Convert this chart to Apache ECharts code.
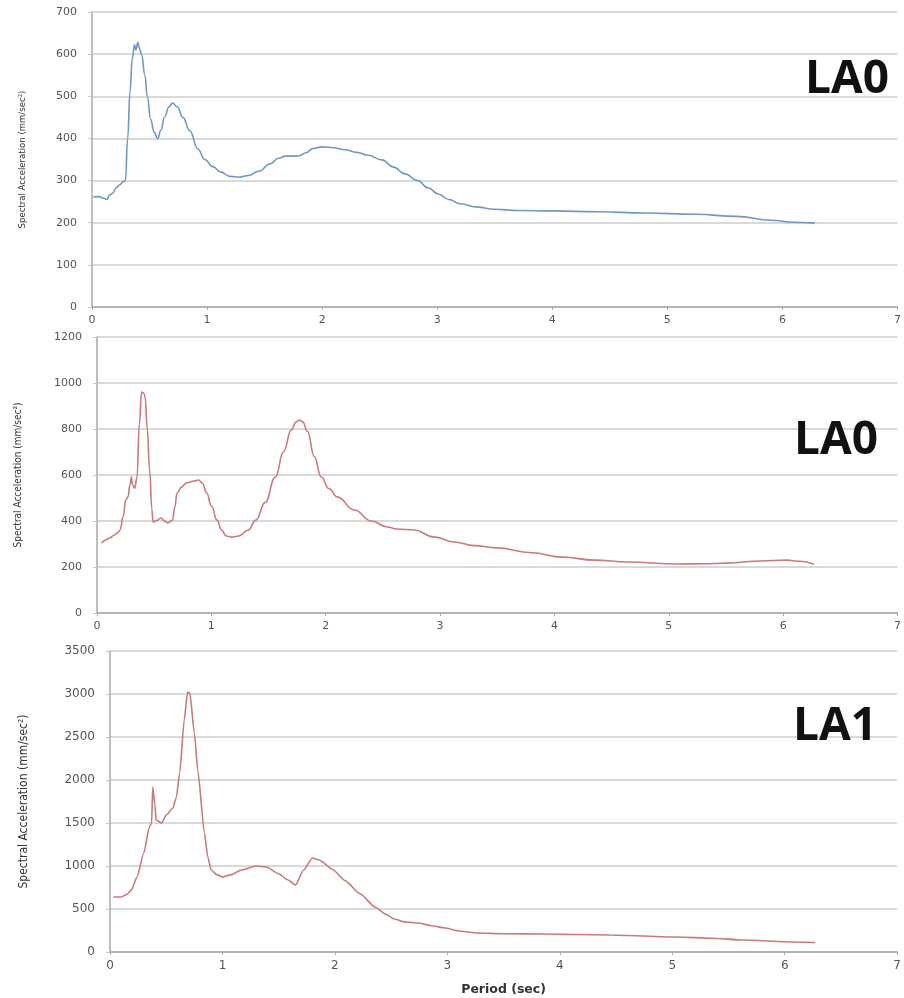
<!DOCTYPE html>
<html>
<head>
<meta charset="utf-8">
<script src="https://cdn.jsdelivr.net/npm/echarts@6/dist/echarts.min.js"></script>
<style>
  html, body { margin: 0; padding: 0; background: #fff; }
  #chart { width: 904px; height: 998px; }
</style>
</head>
<body>
<div id="chart"></div>
<script>
// tick labels of the period axis (shared by the three panels)
var periodTicks = [0, 1, 2, 3, 4, 5, 6, 7];

// panel 1 : LA0 (blue)
var topPeriod = [0.01, 0.06, 0.10, 0.13, 0.15, 0.18, 0.21, 0.24, 0.27, 0.29, 0.31, 0.33, 0.35, 0.37, 0.38, 0.40, 0.41, 0.43, 0.46, 0.48, 0.51, 0.54, 0.57, 0.60, 0.63, 0.67, 0.70, 0.74, 0.79, 0.85, 0.92, 0.98, 1.05, 1.12, 1.20, 1.28, 1.36, 1.45, 1.55, 1.62, 1.68, 1.75, 1.80, 1.86, 1.92, 2.00, 2.10, 2.20, 2.30, 2.40, 2.52, 2.62, 2.72, 2.83, 2.92, 3.01, 3.10, 3.20, 3.35, 3.50, 3.70, 4.00, 4.40, 4.80, 5.25, 5.60, 5.90, 6.10, 6.28];
var topAccel = [261, 262, 258, 255, 265, 270, 283, 290, 297, 300, 400, 510, 590, 622, 610, 628, 615, 600, 550, 500, 445, 415, 400, 420, 451, 475, 484, 475, 450, 418, 375, 350, 333, 320, 310, 308, 312, 322, 340, 353, 358, 358, 359, 366, 376, 380, 378, 373, 367, 360, 349, 332, 316, 300, 283, 268, 255, 245, 237, 232, 229, 228, 226, 223, 220, 215, 206, 201, 199];

// panel 2 : LA0 (red)
var midPeriod = [0.04, 0.08, 0.11, 0.15, 0.18, 0.20, 0.23, 0.25, 0.27, 0.29, 0.30, 0.31, 0.33, 0.35, 0.37, 0.39, 0.41, 0.42, 0.44, 0.46, 0.48, 0.49, 0.52, 0.56, 0.59, 0.62, 0.66, 0.68, 0.70, 0.74, 0.78, 0.85, 0.89, 0.92, 0.96, 1.00, 1.05, 1.09, 1.13, 1.18, 1.24, 1.32, 1.39, 1.47, 1.56, 1.63, 1.70, 1.74, 1.77, 1.80, 1.84, 1.90, 1.96, 2.03, 2.10, 2.25, 2.40, 2.54, 2.62, 2.77, 2.95, 3.12, 3.30, 3.49, 3.80, 4.07, 4.35, 4.64, 5.07, 5.30, 5.51, 5.80, 6.03, 6.15, 6.27];
var midAccel = [304, 318, 326, 338, 348, 360, 420, 491, 504, 560, 591, 560, 543, 591, 820, 961, 955, 939, 800, 622, 450, 396, 402, 413, 400, 391, 404, 460, 522, 548, 565, 574, 578, 565, 522, 465, 404, 360, 335, 330, 335, 360, 404, 480, 591, 700, 796, 830, 839, 830, 790, 680, 591, 540, 505, 448, 400, 374, 365, 361, 330, 309, 293, 283, 262, 243, 230, 222, 213, 214, 217, 226, 230, 225, 212];

// panel 3 : LA1 (red)
var lowPeriod = [0.03, 0.10, 0.15, 0.19, 0.24, 0.30, 0.35, 0.37, 0.38, 0.40, 0.41, 0.46, 0.50, 0.56, 0.59, 0.62, 0.66, 0.69, 0.71, 0.75, 0.78, 0.84, 0.87, 0.90, 0.95, 1.00, 1.08, 1.17, 1.30, 1.39, 1.50, 1.58, 1.65, 1.72, 1.80, 1.86, 1.98, 2.09, 2.22, 2.36, 2.45, 2.53, 2.62, 2.74, 2.86, 2.98, 3.10, 3.27, 3.50, 3.86, 4.44, 5.04, 5.35, 5.63, 6.08, 6.27];
var lowAccel = [640, 640, 670, 720, 872, 1151, 1453, 1500, 1919, 1700, 1535, 1500, 1593, 1674, 1800, 2081, 2700, 3023, 3011, 2550, 2116, 1384, 1100, 953, 900, 872, 900, 953, 1000, 988, 910, 840, 779, 950, 1093, 1070, 960, 830, 680, 520, 440, 384, 350, 337, 305, 279, 245, 221, 213, 209, 198, 174, 160, 140, 116, 110];

var yTitle = 'Spectral Acceleration (mm/sec²)';

function pairs(xs, ys) {
  return xs.map(function (x, i) { return [x, ys[i]]; });
}

function xAxisFor(gridIndex, labelSize, extra) {
  var ax = {
    gridIndex: gridIndex,
    type: 'value',
    min: periodTicks[0],
    max: periodTicks[periodTicks.length - 1],
    interval: 1,
    axisLine: { lineStyle: { color: '#a8a8a8', width: 1.5 } },
    axisTick: { show: true, length: 3, lineStyle: { color: '#a8a8a8' } },
    axisLabel: { color: '#555', fontSize: labelSize, fontFamily: 'DejaVu Sans', margin: 8 },
    splitLine: { show: false }
  };
  return Object.assign(ax, extra || {});
}

function yAxisFor(gridIndex, max, step, labelSize, nameSize, nameGap) {
  return {
    gridIndex: gridIndex,
    type: 'value',
    min: 0,
    max: max,
    interval: step,
    name: yTitle,
    nameLocation: 'middle',
    nameRotate: 90,
    nameGap: nameGap,
    nameTextStyle: { color: '#333', fontSize: nameSize, fontFamily: 'DejaVu Sans Condensed' },
    axisLine: { show: true, lineStyle: { color: '#a8a8a8', width: 1.5 } },
    axisTick: { show: true, length: 4, lineStyle: { color: '#c4c4c4' } },
    axisLabel: {
      color: '#555', fontSize: labelSize, fontFamily: 'DejaVu Sans', margin: 15,
      formatter: function (v) { return String(v); }
    },
    splitLine: { lineStyle: { color: '#cdcdcd', width: 1.5 } }
  };
}

function lineSeries(idx, data, color, smooth) {
  return {
    type: 'line',
    xAxisIndex: idx,
    yAxisIndex: idx,
    data: data,
    showSymbol: false,
    smooth: smooth,
    smoothMonotone: 'x',
    lineStyle: { color: color, width: 1.6 },
    z: 3
  };
}

var chart = echarts.init(document.getElementById('chart'), null, { renderer: 'canvas' });

var option = {
  backgroundColor: '#fff',
  animation: false,
  grid: [
    { left: 92, top: 12, width: 810, height: 295 },
    { left: 97, top: 337, width: 808, height: 276 },
    { left: 110, top: 651, width: 792, height: 301 }
  ],
  xAxis: [
    xAxisFor(0, 11),
    xAxisFor(1, 11),
    xAxisFor(2, 12, {
      name: 'Period (sec)',
      nameLocation: 'middle',
      nameGap: 31,
      nameTextStyle: { color: '#333', fontSize: 12.5, fontWeight: 'bold', fontFamily: 'DejaVu Sans' }
    })
  ],
  yAxis: [
    yAxisFor(0, 700, 100, 11, 9.5, 64),
    yAxisFor(1, 1200, 200, 11, 10, 74),
    yAxisFor(2, 3500, 500, 12, 12, 80)
  ],
  series: [
    lineSeries(0, pairs(topPeriod, topAccel), '#7097c6', 0.45),
    lineSeries(1, pairs(midPeriod, midAccel), '#c97a7a', 0.45),
    lineSeries(2, pairs(lowPeriod, lowAccel), '#c97a7a', 0.2)
  ],
  graphic: [
    { type: 'text', x: 847, y: 80, z: 10, style: { text: 'LA0', font: 'bold 46px "Open Sans"', fill: '#111', align: 'center', verticalAlign: 'middle' } },
    { type: 'text', x: 836, y: 441, z: 10, style: { text: 'LA0', font: 'bold 46px "Open Sans"', fill: '#111', align: 'center', verticalAlign: 'middle' } },
    { type: 'text', x: 835, y: 727, z: 10, style: { text: 'LA1', font: 'bold 46px "Open Sans"', fill: '#111', align: 'center', verticalAlign: 'middle' } }
  ]
};

chart.setOption(option);
</script>
</body>
</html>
